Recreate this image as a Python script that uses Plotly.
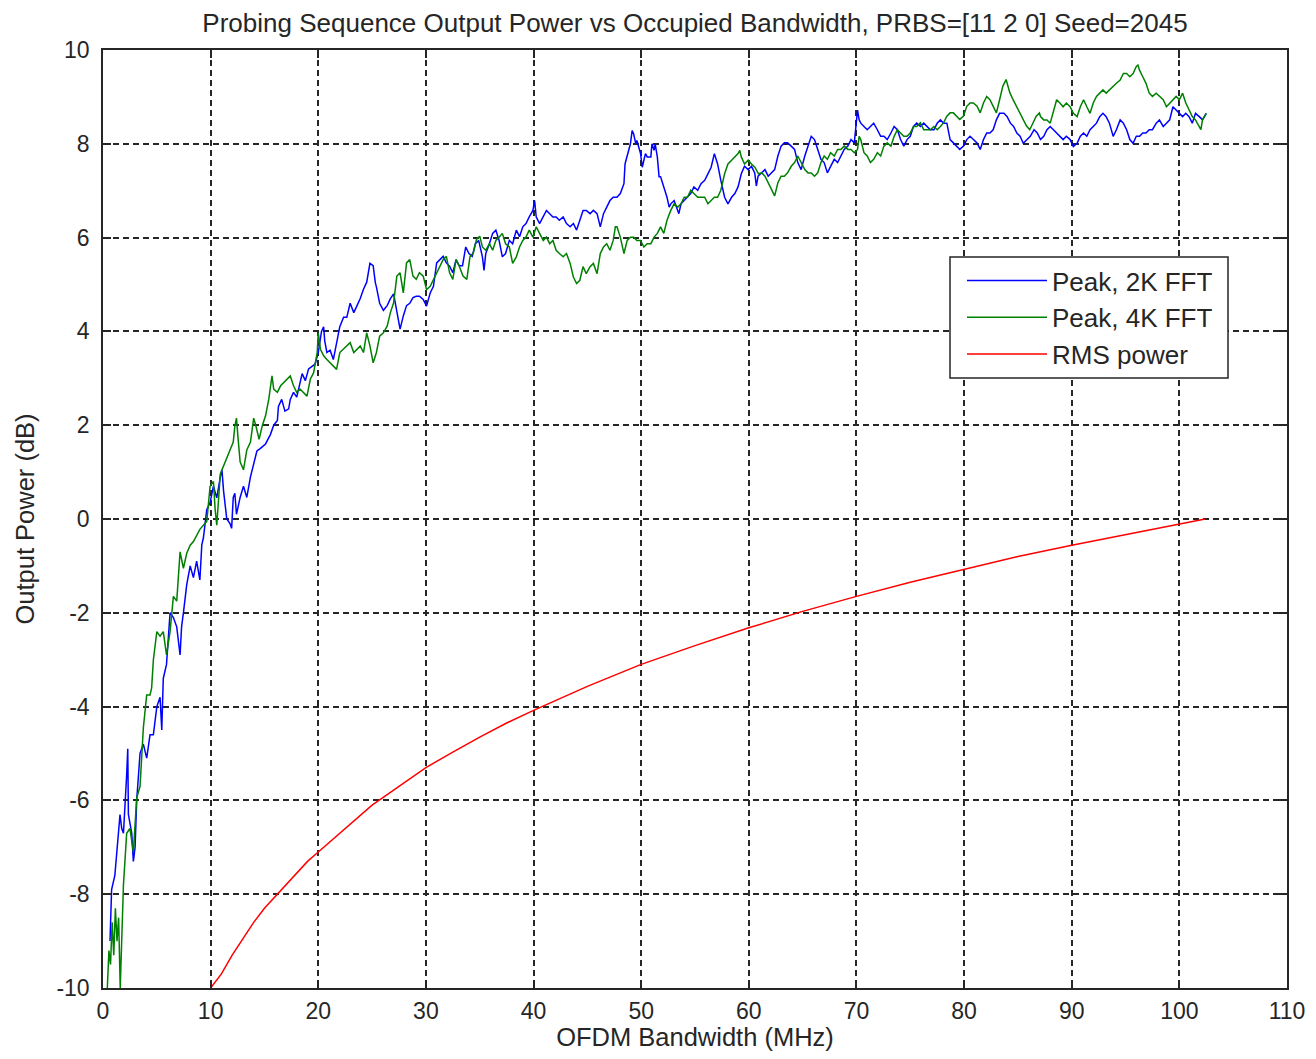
import plotly.graph_objects as go

# ---------------- data ----------------
blue_x = [0.65, 0.8, 1.1, 1.27, 1.58, 1.74, 1.9, 2.2, 2.3, 2.36, 2.67, 2.82, 2.98, 3.13, 3.44, 3.75, 4.06, 4.37, 4.68, 5.0,
          5.3, 5.46, 5.6, 5.9, 6.23, 6.54, 6.85, 7.16, 7.3, 7.47, 7.6, 7.78, 8.1, 8.4, 8.7, 9.0, 9.18, 9.33, 9.64, 9.95,
          10.26, 10.57, 10.9, 11.05, 11.2, 11.5, 11.8, 11.95, 12.1, 12.25, 12.4, 12.74, 13.05, 13.36, 13.7, 14.0, 14.3,
          14.6, 15.1, 15.55, 15.86, 16.2, 16.3, 16.6, 16.9, 17.25, 17.4, 17.7, 18.0, 18.5, 18.8, 19.1, 19.4, 19.7, 20.0,
          20.3, 20.5, 20.6, 20.8, 21.1, 21.4, 21.7, 22.0, 22.35, 22.65, 22.96, 23.3, 23.6, 23.9, 24.2, 24.5, 24.8, 25.1,
          25.3, 25.4, 25.7, 26.05, 26.4, 26.7, 27.0, 27.3, 27.6, 27.9, 28.2, 28.5, 28.8, 29.1, 29.4, 29.75, 30.06, 30.4,
          30.7, 31.0, 31.3, 31.6, 31.9, 32.2, 32.5, 32.8, 33.1, 33.4, 33.7, 34.0, 34.3, 34.6, 34.9, 35.25, 35.4, 35.56,
          35.9, 36.2, 36.5, 36.8, 37.1, 37.4, 37.75, 38.06, 38.4, 38.7, 39.0, 39.3, 39.6, 39.94, 40.1, 40.25, 40.56, 40.9,
          41.2, 41.5, 41.8, 42.1, 42.4, 42.75, 43.06, 43.4, 43.7, 44.0, 44.3, 44.6, 44.9, 45.25, 45.56, 45.9, 46.2, 46.5,
          46.8, 47.1, 47.4, 47.75, 48.06, 48.4, 48.5, 48.7, 49.0, 49.16, 49.3, 49.5, 49.6, 49.94, 50.1, 50.25, 50.4, 50.56,
          50.9, 51.0, 51.2, 51.3, 51.5, 51.66, 51.8, 52.1, 52.4, 52.6, 52.75, 53.06, 53.4, 53.5, 53.7, 54.0, 54.3, 54.6,
          54.9, 55.25, 55.56, 55.9, 56.2, 56.5, 56.8, 57.1, 57.4, 57.75, 58.06, 58.4, 58.7, 59.0, 59.3, 59.6, 59.94, 60.25,
          60.55, 60.7, 60.86, 61.2, 61.5, 61.8, 62.1, 62.4, 62.7, 63.0, 63.3, 63.6, 63.94, 64.25, 64.55, 64.86, 65.2, 65.5,
          65.8, 66.1, 66.4, 66.7, 67.0, 67.3, 67.6, 67.94, 68.25, 68.55, 68.86, 69.2, 69.5, 69.8, 69.94, 70.1, 70.25, 70.4,
          70.7, 71.0, 71.3, 71.6, 71.94, 72.25, 72.55, 72.86, 73.2, 73.5, 73.8, 74.1, 74.4, 74.7, 75.0, 75.3, 75.6, 75.94,
          76.25, 76.55, 76.86, 77.2, 77.5, 77.8, 78.1, 78.4, 78.55, 78.7, 79.0, 79.3, 79.6, 79.94, 80.25, 80.55, 80.86,
          81.2, 81.5, 81.8, 82.1, 82.4, 82.7, 83.0, 83.3, 83.7, 84.0, 84.3, 84.6, 84.9, 85.2, 85.5, 85.85, 86.15, 86.5,
          86.8, 87.1, 87.4, 87.7, 88.0, 88.3, 88.6, 88.9, 89.2, 89.5, 89.85, 90.15, 90.5, 90.8, 91.1, 91.4, 91.7, 92.0,
          92.3, 92.6, 92.9, 93.2, 93.5, 93.85, 94.15, 94.5, 94.8, 95.1, 95.4, 95.7, 96.0, 96.3, 96.6, 96.9, 97.2, 97.5,
          97.85, 98.15, 98.5, 98.8, 99.1, 99.4, 99.7, 100.0, 100.3, 100.6, 100.9, 101.2, 101.5, 101.85, 102.15, 102.5]
blue_y = [-9.0, -7.9, -7.6, -7.1, -6.3, -6.6, -6.7, -5.45, -4.9, -6.3, -6.7, -7.3, -7.0, -6.0, -5.0, -4.8, -5.1, -4.6, -4.6, -4.0,
          -3.8, -4.5, -3.4, -3.1, -2.0, -2.1, -2.3, -2.9, -2.3, -2.0, -1.75, -1.4, -1.0, -1.25, -0.9, -1.3, -0.55, -0.4, 0.2, 0.35,
          0.7, 0.45, 0.9, 1.05, 0.6, 0.0, -0.1, -0.2, 0.46, 0.55, 0.1, 0.46, 0.7, 0.46, 0.9, 1.15, 1.45,
          1.5, 1.6, 1.8, 2.0, 2.1, 2.4, 2.55, 2.3, 2.35, 2.55, 2.7, 2.6, 3.1, 2.95, 3.2, 3.25, 3.3, 3.55,
          4.0, 4.1, 3.8, 3.55, 3.6, 3.4, 3.75, 4.1, 4.3, 4.3, 4.6, 4.4, 4.55, 4.7, 4.9, 5.05, 5.45, 5.4,
          5.04, 4.95, 4.6, 4.45, 4.55, 4.7, 4.8, 4.4, 4.05, 4.33, 4.55, 4.6, 4.72, 4.75, 4.75, 4.68, 4.54, 4.82,
          4.96, 5.46, 5.53, 5.6, 5.46, 5.39, 5.25, 5.53, 5.4, 5.4, 5.8, 5.66, 5.6, 5.87, 5.94, 5.59, 5.3, 5.66,
          5.87, 6.09, 6.16, 5.94, 5.59, 5.66, 5.94, 5.87, 6.16, 6.02, 6.23, 6.3, 6.44, 6.58, 6.79, 6.44, 6.3, 6.44,
          6.58, 6.51, 6.44, 6.44, 6.37, 6.44, 6.3, 6.23, 6.3, 6.16, 6.37, 6.58, 6.58, 6.51, 6.58, 6.51, 6.23, 6.51,
          6.65, 6.79, 6.86, 6.86, 6.94, 7.15, 7.57, 7.72, 8.0, 8.28, 8.21, 8.0, 8.07, 7.79, 7.5, 7.65, 7.79, 7.72,
          7.72, 8.0, 7.86, 8.0, 7.72, 7.3, 7.3, 7.08, 6.86, 6.65, 6.72, 6.79, 6.58, 6.51, 6.72, 6.79, 6.86, 6.94,
          7.08, 7.01, 7.15, 7.22, 7.36, 7.5, 7.79, 7.57, 7.22, 6.86, 6.72, 6.86, 6.94, 7.08, 7.36, 7.52, 7.45, 7.52,
          7.38, 7.1, 7.31, 7.38, 7.45, 7.31, 7.38, 7.45, 7.74, 7.95, 8.02, 8.02, 7.95, 7.88, 7.6, 7.45, 7.74, 7.95,
          8.16, 8.09, 7.88, 7.67, 7.6, 7.38, 7.52, 7.67, 7.6, 7.74, 7.88, 7.95, 8.09, 8.02, 8.3, 8.72, 8.51, 8.44,
          8.37, 8.3, 8.37, 8.44, 8.3, 8.16, 8.16, 8.09, 8.23, 8.37, 8.3, 8.09, 7.95, 8.09, 8.16, 8.37, 8.44, 8.37,
          8.44, 8.37, 8.3, 8.3, 8.44, 8.51, 8.44, 8.44, 8.23, 8.09, 8.02, 7.95, 7.88, 7.95, 8.09, 8.16, 8.09,
          8.02, 7.88, 8.09, 8.23, 8.23, 8.3, 8.51, 8.65, 8.65, 8.58, 8.44, 8.37, 8.23, 8.16, 8.01, 8.09, 8.16, 8.3,
          8.23, 8.09, 8.16, 8.3, 8.37, 8.3, 8.23, 8.16, 8.09, 8.16, 8.09, 7.94, 8.01, 8.16, 8.23, 8.16, 8.3, 8.37,
          8.44, 8.58, 8.65, 8.58, 8.44, 8.16, 8.3, 8.51, 8.44, 8.3, 8.09, 8.01, 8.16, 8.16, 8.23, 8.23, 8.3, 8.3,
          8.44, 8.51, 8.37, 8.44, 8.51, 8.79, 8.72, 8.65, 8.58, 8.65, 8.58, 8.44, 8.65, 8.58, 8.51, 8.65]

green_x = [0.4, 0.55, 0.7, 0.85, 1.0, 1.15, 1.3, 1.45, 1.6, 1.75, 1.9, 2.2, 2.5, 2.82, 3.13, 3.44, 3.75, 4.06, 4.37, 4.52,
           4.68, 5.0, 5.3, 5.6, 5.9, 6.23, 6.54, 6.85, 7.16, 7.47, 7.78, 8.1, 8.4, 9.0, 9.64, 9.95, 10.26, 10.42, 10.57,
           10.9, 11.2, 11.5, 11.8, 12.1, 12.25, 12.4, 12.55, 12.74, 13.05, 13.36, 13.7, 14.0, 14.2, 14.5, 14.8, 15.1,
           15.4, 15.7, 15.86, 16.2, 16.5, 16.8, 17.1, 17.4, 17.7, 18.0, 18.3, 18.6, 18.95, 19.26, 19.57, 19.9, 20.0, 20.2,
           20.5, 20.8, 21.1, 21.4, 21.7, 22.0, 22.35, 22.65, 22.96, 23.3, 23.6, 23.9, 24.2, 24.5, 24.8, 25.1, 25.4, 25.7,
           26.05, 26.4, 26.7, 27.0, 27.3, 27.6, 27.9, 28.2, 28.5, 28.8, 29.1, 29.4, 29.75, 30.06, 30.4, 30.7, 31.0, 31.3,
           31.6, 31.9, 32.2, 32.5, 32.8, 33.1, 33.45, 33.8, 34.1, 34.4, 34.7, 35.0, 35.25, 35.56, 35.9, 36.2, 36.5, 36.8,
           37.1, 37.4, 37.75, 38.06, 38.4, 38.7, 39.0, 39.3, 39.6, 39.94, 40.25, 40.56, 40.9, 41.2, 41.5, 41.8, 42.1, 42.4,
           42.75, 43.06, 43.4, 43.7, 44.0, 44.3, 44.6, 44.9, 45.25, 45.56, 45.9, 46.2, 46.5, 46.8, 47.1, 47.4, 47.6, 47.75,
           48.06, 48.4, 48.7, 49.0, 49.3, 49.6, 49.94, 50.25, 50.56, 50.9, 51.2, 51.5, 51.8, 52.1, 52.4, 52.75, 53.06,
           53.4, 53.7, 54.0, 54.3, 54.6, 54.9, 55.25, 55.56, 55.9, 56.2, 56.5, 56.8, 57.1, 57.4, 57.75, 58.06, 58.4, 58.7,
           59.0, 59.16, 59.3, 59.6, 59.94, 60.25, 60.56, 60.9, 61.2, 61.5, 61.8, 62.1, 62.4, 62.7, 63.0, 63.3, 63.6, 63.94,
           64.25, 64.55, 64.86, 65.2, 65.5, 65.8, 66.1, 66.4, 66.7, 67.0, 67.3, 67.6, 67.94, 68.25, 68.55, 68.86, 69.2,
           69.5, 69.8, 70.1, 70.25, 70.4, 70.7, 71.0, 71.3, 71.6, 71.94, 72.25, 72.55, 72.86, 73.2, 73.5, 73.8, 74.1, 74.4,
           74.7, 75.0, 75.3, 75.6, 75.94, 76.25, 76.55, 76.86, 77.2, 77.5, 77.8, 78.1, 78.4, 78.7, 79.0, 79.3, 79.6, 79.94,
           80.25, 80.55, 80.86, 81.2, 81.5, 81.8, 82.1, 82.4, 82.7, 83.0, 83.3, 83.6, 83.9, 84.1, 84.25, 84.55, 84.86,
           85.2, 85.5, 85.8, 86.1, 86.4, 86.7, 87.0, 87.1, 87.4, 87.7, 88.0, 88.3, 88.6, 88.9, 89.2, 89.5, 89.85, 90.15,
           90.5, 90.8, 91.1, 91.4, 91.7, 92.0, 92.3, 92.6, 92.9, 93.2, 93.5, 93.85, 94.15, 94.5, 94.8, 95.1, 95.4, 95.7,
           96.0, 96.15, 96.3, 96.6, 96.9, 97.2, 97.5, 97.85, 98.15, 98.5, 98.8, 99.1, 99.4, 99.7, 100.0, 100.3, 100.6,
           100.9, 101.2, 101.5, 101.85, 102.0, 102.15, 102.5]
green_y = [-10.0, -9.2, -9.5, -8.6, -9.3, -8.3, -9.0, -8.5, -10.0, -8.6, -7.8, -6.7, -6.6, -7.1, -5.95, -5.7, -4.45, -3.75, -3.75, -3.6,
           -3.0, -2.4, -2.5, -2.4, -2.9, -2.4, -1.65, -1.75, -0.7, -1.05, -0.73, -0.56, -0.48, -0.22, -0.05, 0.7, 0.8, 0.2, -0.13,
           0.96, 1.13, 1.3, 1.47, 1.64, 1.98, 2.15, 1.72, 1.22, 1.05, 1.47, 1.64, 2.15, 1.99, 1.7, 1.99, 2.2,
           2.55, 3.05, 2.77, 2.7, 2.84, 2.91, 2.98, 3.05, 2.84, 2.7, 2.77, 2.7, 2.62, 2.98, 3.12, 3.55, 3.97, 3.62,
           3.48, 3.4, 3.33, 3.26, 3.19, 3.55, 3.62, 3.69, 3.76, 3.55, 3.62, 3.69, 3.55, 3.97, 3.69, 3.33, 3.55, 3.9,
           3.97, 4.11, 4.4, 4.61, 5.18, 5.25, 4.82, 5.46, 5.53, 5.18, 5.11, 5.25, 5.18, 4.89, 4.96, 5.11, 5.25, 5.39,
           5.53, 5.6, 5.25, 5.11, 5.53, 5.39, 5.18, 5.11, 5.6, 5.67, 5.96, 6.03, 5.8, 5.73, 5.87, 5.73, 5.94, 6.01,
           6.09, 5.87, 5.8, 5.45, 5.59, 5.8, 5.94, 6.01, 6.16, 6.01, 6.23, 6.09, 5.94, 6.01, 5.87, 5.94, 5.73, 5.66,
           5.59, 5.66, 5.45, 5.16, 5.02, 5.09, 5.38, 5.23, 5.38, 5.45, 5.23, 5.66, 5.8, 5.87, 5.73, 5.94, 6.23, 6.23,
           6.01, 5.66, 5.94, 6.01, 6.01, 5.94, 5.94, 5.8, 5.87, 5.87, 6.01, 6.09, 6.23, 6.09, 6.37, 6.58, 6.72,
           6.65, 6.72, 6.86, 6.86, 7.01, 6.94, 6.86, 6.86, 6.86, 6.72, 6.79, 6.86, 6.86, 7.01, 7.36, 7.57, 7.65, 7.72,
           7.79, 7.86, 7.72, 7.57, 7.65, 7.57, 7.5, 7.36, 7.38, 7.31, 7.17, 7.03, 6.89, 7.17, 7.31, 7.31, 7.38, 7.52,
           7.6, 7.74, 7.6, 7.45, 7.38, 7.38, 7.31, 7.38, 7.6, 7.74, 7.67, 7.81, 7.74, 7.88, 7.88, 7.95, 7.88,
           7.88, 7.81, 7.88, 8.16, 8.09, 7.81, 7.74, 7.6, 7.67, 7.81, 7.74, 7.95, 8.02, 7.95, 8.16, 8.3, 8.23, 8.16,
           8.16, 8.23, 8.37, 8.37, 8.45, 8.3, 8.3, 8.3, 8.37, 8.3, 8.37, 8.45, 8.59, 8.66, 8.66, 8.59, 8.52, 8.59,
           8.8, 8.87, 8.87, 8.8, 8.66, 8.87, 9.01, 8.94, 8.8, 8.66, 8.94, 9.23, 9.37, 9.23, 9.09, 8.94, 8.8,
           8.66, 8.52, 8.38, 8.3, 8.45, 8.59, 8.66, 8.58, 8.51, 8.51, 8.44, 8.72, 8.94, 8.87, 8.79, 8.87, 8.79, 8.65,
           8.58, 8.79, 8.94, 8.79, 8.65, 8.87, 9.01, 9.08, 9.15, 9.08, 9.15, 9.22, 9.29, 9.36, 9.5, 9.5, 9.43, 9.5,
           9.65, 9.68, 9.57, 9.43, 9.29, 9.08, 9.01, 9.08, 9.01, 8.94, 8.79, 8.87, 8.94, 9.01, 8.94, 9.08, 8.87,
           8.72, 8.58, 8.51, 8.37, 8.3, 8.51, 8.65]

rms_x = [10, 11, 12, 13, 14, 15, 16, 17, 18, 19, 20, 22.5, 25, 27.5, 30, 32.5, 35, 37.5, 40, 45, 50, 55, 60, 65, 70,
         75, 80, 85, 90, 95, 100, 102.4]
rms_y = [-10.0, -9.7, -9.3, -8.95, -8.6, -8.3, -8.05, -7.8, -7.55, -7.3, -7.1, -6.6, -6.1, -5.7, -5.3, -4.97, -4.65,
         -4.35, -4.08, -3.57, -3.1, -2.7, -2.32, -1.97, -1.65, -1.35, -1.07, -0.8, -0.56, -0.33, -0.1, 0.0]

series_names = ["Peak, 2K FFT", "Peak, 4K FFT", "RMS power"]
x_ticks = [0, 10, 20, 30, 40, 50, 60, 70, 80, 90, 100, 110]
y_ticks = [-10, -8, -6, -4, -2, 0, 2, 4, 6, 8, 10]

title_text = "Probing Sequence Output Power vs Occupied Bandwidth, PRBS=[11 2 0] Seed=2045"
x_title = "OFDM Bandwidth (MHz)"
y_title = "Output Power (dB)"

# ---------------- figure ----------------
FONT = "Liberation Sans, Arial, sans-serif"
TXT = "#262626"
W, H = 1300, 1043   # page body adds an 8px offset

fig = go.Figure()
fig.add_trace(go.Scatter(x=blue_x, y=blue_y, mode="lines", name=series_names[0],
                         line=dict(color="#0000ff", width=1.5)))
fig.add_trace(go.Scatter(x=green_x, y=green_y, mode="lines", name=series_names[1],
                         line=dict(color="#008000", width=1.5)))
fig.add_trace(go.Scatter(x=rms_x, y=rms_y, mode="lines", name=series_names[2],
                         line=dict(color="#ff0000", width=1.5)))

axis_common = dict(
    showline=True, linecolor="#262626", linewidth=1.5, mirror="ticks",
    ticks="inside", ticklen=8, tickwidth=1.5, tickcolor="#262626",
    showgrid=True, gridcolor="#262626", gridwidth=1.5, griddash="6px,4px",
    zeroline=False, tickfont=dict(family=FONT, size=23, color=TXT),
)

fig.update_xaxes(range=[0, 110], tickvals=x_ticks, ticktext=[str(v) for v in x_ticks],
                 ticklabelstandoff=2,
                 title=dict(text=x_title, font=dict(family=FONT, size=25.5, color=TXT), standoff=13),
                 **axis_common)
fig.update_yaxes(range=[-10, 10], tickvals=y_ticks, ticktext=[str(v) for v in y_ticks],
                 ticklabelstandoff=7,
                 title=dict(text=y_title, font=dict(family=FONT, size=25.5, color=TXT), standoff=14),
                 **axis_common)

# legend frame (page px 950..1228 x 257..378 -> plot paper coords)
PL, PW, PB, PH = 103, 1184, 988, 938
fig.add_shape(type="rect", xref="paper", yref="paper",
              x0=(950 - PL) / PW, x1=(1228 - PL) / PW,
              y0=(PB - 378) / PH, y1=(PB - 257) / PH,
              line=dict(color="#262626", width=1.5), fillcolor="white", layer="above")

fig.update_layout(
    width=W, height=H,
    margin=dict(l=95, r=21, t=42, b=63, autoexpand=False),
    paper_bgcolor="white", plot_bgcolor="white",
    title=dict(text=title_text, x=0.5, xref="paper", xanchor="center",
               y=1.0, yref="container", yanchor="top", pad=dict(t=6, b=0, l=0, r=0),
               font=dict(family=FONT, size=26, color=TXT)),
    showlegend=True,
    legend=dict(x=(962 - PL) / PW, y=(PB - 257) / PH, xanchor="left", yanchor="top",
                bgcolor="rgba(0,0,0,0)", borderwidth=0,
                font=dict(family=FONT, size=26, color=TXT),
                itemwidth=80, tracegroupgap=0),
)

fig.write_html("out.html")
